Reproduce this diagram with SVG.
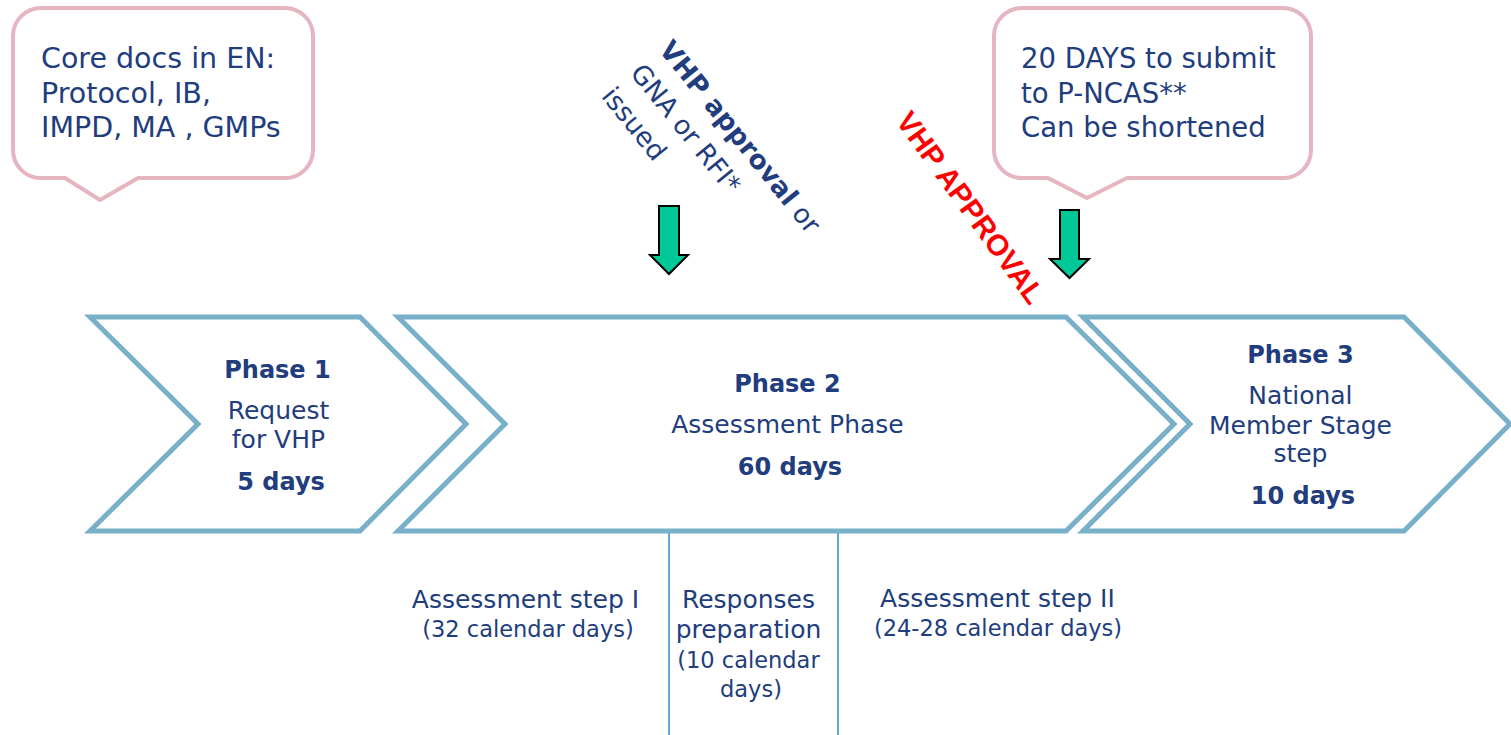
<svg xmlns="http://www.w3.org/2000/svg" width="1511" height="735" viewBox="0 0 1511 735">
  <style>
    .txt { font-family: "DejaVu Sans", Verdana, sans-serif; fill: #213d7d; }
    .bold { font-weight: bold; }
    .callout { fill: #ffffff; stroke: #e5b5c0; stroke-width: 4; stroke-linejoin: round; }
    .phase { fill: #ffffff; stroke: #78afc9; stroke-width: 5; stroke-linejoin: miter; }
    .marker-arrow { fill: #00c896; stroke: #000000; stroke-width: 2; stroke-linejoin: miter; }
    .divider { stroke: #5ea8d2; stroke-width: 2; }
  </style>

  <rect width="1511" height="735" fill="#ffffff"/>

  <!-- callout: core documents -->
  <g id="callout-core-docs">
    <path class="callout" d="M 41 8 H 285 A 28 28 0 0 1 313 36 V 150 A 28 28 0 0 1 285 178 H 138 L 100 200 L 65 178 H 41 A 28 28 0 0 1 13 150 V 36 A 28 28 0 0 1 41 8 Z"/>
    <text class="txt" font-size="28.5">
      <tspan x="41" y="68">Core docs in EN:</tspan>
      <tspan x="41" y="103">Protocol, IB,</tspan>
      <tspan x="41" y="137">IMPD, MA , GMPs</tspan>
    </text>
  </g>

  <!-- callout: submission window -->
  <g id="callout-submit">
    <path class="callout" d="M 1022 8 H 1283 A 28 28 0 0 1 1311 36 V 150 A 28 28 0 0 1 1283 178 H 1127 L 1087 198 L 1048 178 H 1022 A 28 28 0 0 1 994 150 V 36 A 28 28 0 0 1 1022 8 Z"/>
    <text class="txt" font-size="27.5">
      <tspan x="1021" y="68">20 DAYS to submit</tspan>
      <tspan x="1021" y="103">to P-NCAS**</tspan>
      <tspan x="1021" y="137">Can be shortened</tspan>
    </text>
  </g>

  <!-- slanted note over phase 2 -->
  <g id="note-vhp-approval">
    <text class="txt" font-size="26.5" transform="translate(658 50) rotate(51)">
      <tspan x="0" y="0"><tspan class="bold">VHP approval</tspan> or</tspan>
      <tspan x="0" y="37">GNA or RFI*</tspan>
      <tspan x="0" y="74">issued</tspan>
    </text>
  </g>

  <!-- slanted red label -->
  <g id="note-red-approval">
    <text font-family="'Liberation Sans', Arial, sans-serif" font-weight="bold" font-size="29.5" fill="#ff0000" transform="translate(895 121) rotate(54)">VHP APPROVAL</text>
  </g>

  <!-- down arrows -->
  <g id="arrow-phase2">
    <polygon class="marker-arrow" points="659,206 679,206 679,255 688,255 669,274 650,255 659,255"/>
  </g>
  <g id="arrow-phase3">
    <polygon class="marker-arrow" points="1060,210 1079,210 1079,259 1089,259 1069.5,278 1050,259 1060,259"/>
  </g>

  <!-- phase chevrons -->
  <g id="phase-1">
    <polygon class="phase" points="90,317 360,317 466,424 360,531 90,531 198,424"/>
    <text class="txt" text-anchor="middle">
      <tspan class="bold" font-size="24" x="280" y="378">Phase 1</tspan>
      <tspan font-size="25" x="281" y="419">Request</tspan>
      <tspan font-size="25" x="281" y="448">for VHP</tspan>
      <tspan class="bold" font-size="24" x="281" y="490">5 days</tspan>
    </text>
  </g>

  <g id="phase-2">
    <polygon class="phase" points="398,317 1066,317 1174,424 1066,531 398,531 505,424"/>
    <text class="txt" text-anchor="middle">
      <tspan class="bold" font-size="24" x="790" y="392">Phase 2</tspan>
      <tspan font-size="25" x="790" y="433">Assessment Phase</tspan>
      <tspan class="bold" font-size="24" x="790" y="475">60 days</tspan>
    </text>
  </g>

  <g id="phase-3">
    <polygon class="phase" points="1083,317 1404,317 1510,424 1404,531 1083,531 1190,424"/>
    <text class="txt" text-anchor="middle">
      <tspan class="bold" font-size="24" x="1303" y="363">Phase 3</tspan>
      <tspan font-size="25" x="1303" y="404">National</tspan>
      <tspan font-size="25" x="1303" y="434">Member Stage</tspan>
      <tspan font-size="25" x="1303" y="462">step</tspan>
      <tspan class="bold" font-size="24" x="1303" y="504">10 days</tspan>
    </text>
  </g>

  <!-- sub-step dividers under phase 2 -->
  <g id="connectors">
    <line class="divider" x1="669" y1="533" x2="669" y2="735"/>
    <line class="divider" x1="838" y1="533" x2="838" y2="735"/>
  </g>

  <!-- sub-steps -->
  <g id="step-assessment-1">
    <text class="txt" text-anchor="middle">
      <tspan font-size="25" x="528" y="608">Assessment step I</tspan>
      <tspan font-size="22.5" x="528" y="637">(32 calendar days)</tspan>
    </text>
  </g>
  <g id="step-responses">
    <text class="txt" text-anchor="middle">
      <tspan font-size="25" x="751" y="608">Responses</tspan>
      <tspan font-size="25" x="751" y="638">preparation</tspan>
      <tspan font-size="22.5" x="751" y="668">(10 calendar</tspan>
      <tspan font-size="22.5" x="751" y="697">days)</tspan>
    </text>
  </g>
  <g id="step-assessment-2">
    <text class="txt" text-anchor="middle">
      <tspan font-size="25" x="1000" y="607">Assessment step II</tspan>
      <tspan font-size="22.5" x="998" y="636">(24-28 calendar days)</tspan>
    </text>
  </g>
</svg>
